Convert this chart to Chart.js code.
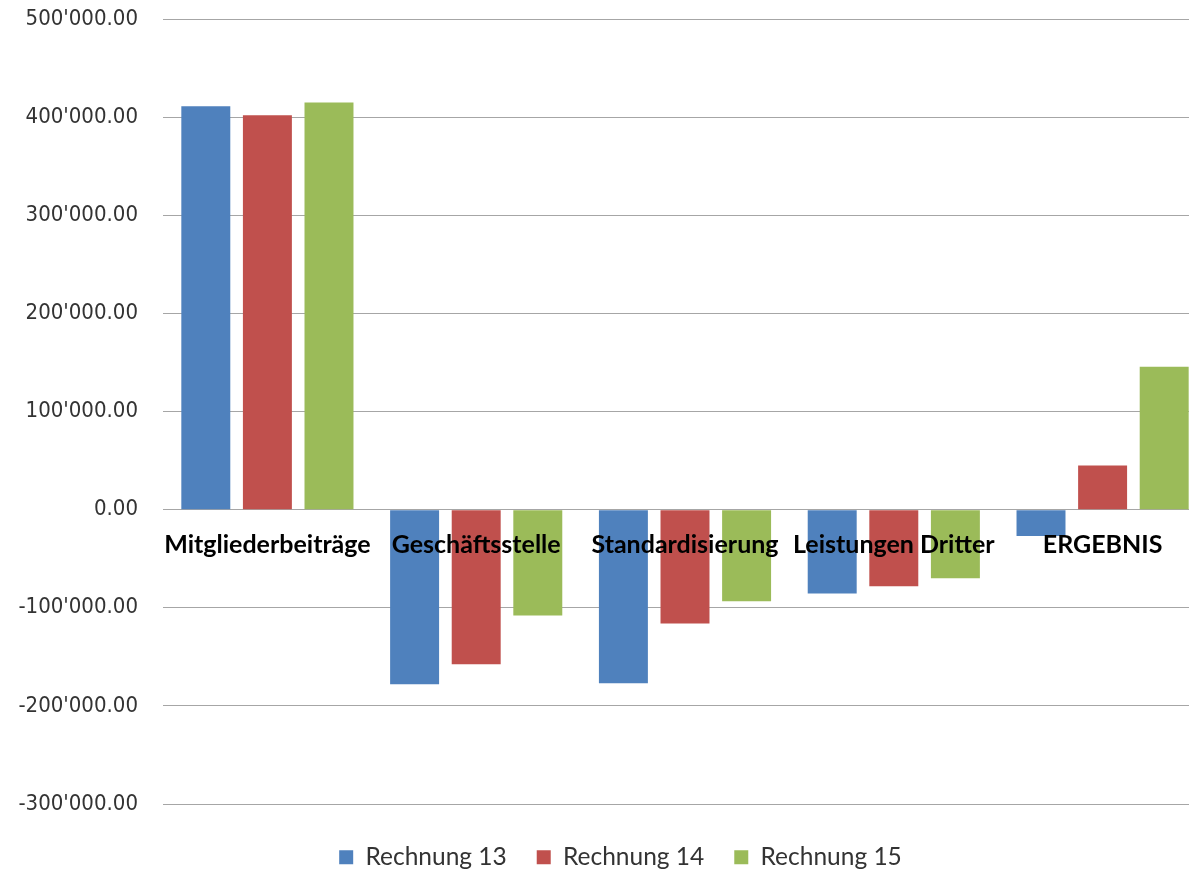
<!DOCTYPE html>
<html>
<head>
<meta charset="utf-8">
<script src="https://cdn.jsdelivr.net/npm/chart.js@4/dist/chart.umd.min.js"></script>
<style>
  html, body { margin: 0; padding: 0; overflow: hidden; background: #fff; }
  #wrap { position: absolute; left: 0; top: 0; width: 1207px; height: 880px; }
</style>
</head>
<body>
<div id="wrap"><canvas id="c"></canvas></div>
<script>
// Budget overview: income, cost centres and result per accounting year
const categories = ['Mitgliederbeiträge', 'Geschäftsstelle', 'Standardisierung', 'Leistungen Dritter', 'ERGEBNIS'];
const seriesNames = ['Rechnung 13', 'Rechnung 14', 'Rechnung 15'];
const rechnung13 = [411000, -178000, -177000, -85500, -27000];
const rechnung14 = [402000, -157500, -116000, -78000, 45000];
const rechnung15 = [415000, -108000, -93500, -70000, 145500];
const seriesColors = ['#4F81BD', '#C0504D', '#9BBB59'];

// Swiss number format: 123'456.00
function chf(v) {
  const neg = v < 0;
  const parts = Math.abs(v).toFixed(2).split('.');
  const whole = parts[0].replace(/\B(?=(\d{3})+(?!\d))/g, "'");
  return (neg ? '-' : '') + whole + '.' + parts[1];
}

// Shifts the legend row a little right and down
const legendOffset = {
  id: 'legendOffset',
  afterLayout(chart) {
    const l = chart.legend;
    if (l) {
      l.left += 17; l.right += 17;
      l.top += 11; l.bottom += 11;
    }
  }
};

const values = [rechnung13, rechnung14, rechnung15];
new Chart(document.getElementById('c'), {
  type: 'bar',
  data: {
    labels: categories,
    datasets: seriesNames.map((name, i) => ({
      label: name,
      data: values[i],
      backgroundColor: seriesColors[i],
      borderWidth: 0,
      categoryPercentage: 0.885,
      barPercentage: 0.795
    }))
  },
  options: {
    responsive: true,
    maintainAspectRatio: false,
    animation: false,
    layout: { padding: { left: 0, right: 0, top: 19, bottom: 11.5 } },
    scales: {
      x: {
        position: { y: 0 },
        grid: { display: false },
        border: { display: false },
        ticks: {
          z: 1,
          autoSkip: false,
          maxRotation: 0,
          padding: 12,
          color: '#000',
          font: { family: 'Lato', size: 25, weight: 'bold' }
        }
      },
      y: {
        min: -300000,
        max: 500000,
        afterFit(scale) { scale.width = 163; },
        grid: {
          color: '#a6a6a6',
          lineWidth: 1,
          drawTicks: true,
          tickLength: 25,
          tickColor: 'rgba(0,0,0,0)'
        },
        border: { display: false },
        ticks: {
          stepSize: 100000,
          padding: 0,
          color: '#333',
          font: { family: 'DejaVu Sans Condensed', size: 22 },
          callback: (v) => chf(v)
        }
      }
    },
    plugins: {
      legend: {
        position: 'bottom',
        labels: {
          boxWidth: 14,
          boxHeight: 14,
          padding: 30,
          color: '#333',
          font: { family: 'Lato', size: 24.5 }
        }
      },
      tooltip: { enabled: false }
    }
  },
  plugins: [legendOffset]
});
</script>
</body>
</html>
